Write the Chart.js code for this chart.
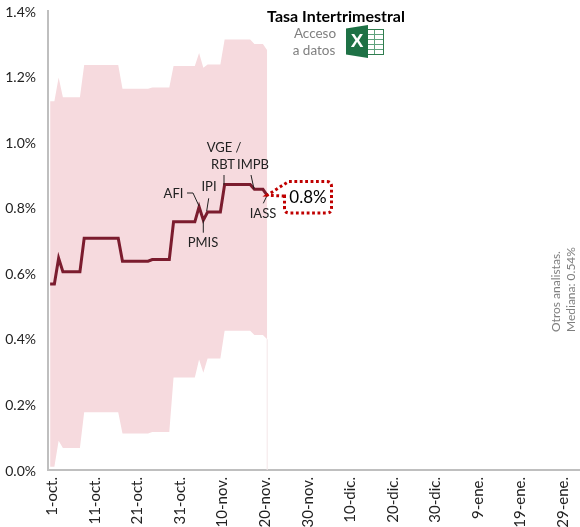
<!DOCTYPE html>
<html>
<head>
<meta charset="utf-8">
<style>
  html, body { margin: 0; padding: 0; background: #fff; }
  #wrap { width: 580px; height: 527px; position: relative; }
</style>
<script src="https://cdn.jsdelivr.net/npm/chart.js@4/dist/chart.umd.min.js"></script>
</head>
<body>
<div id="wrap"><canvas id="tasaChart" width="580" height="527"></canvas></div>
<script>
const totalDays = 125;
const yTicks = [0, 0.2, 0.4, 0.6, 0.8, 1.0, 1.2, 1.4];
const meses = ['ene.', 'feb.', 'mar.', 'abr.', 'may.', 'jun.', 'jul.', 'ago.', 'sep.', 'oct.', 'nov.', 'dic.'];

// mediana diaria, desde 30-sep hasta 20-nov
const mediana = [
  0.567, 0.567, 0.646, 0.605, 0.605, 0.605, 0.605, 0.605,
  0.707, 0.707, 0.707, 0.707, 0.707, 0.707, 0.707, 0.707, 0.707,
  0.637, 0.637, 0.637, 0.637, 0.637, 0.637, 0.637,
  0.642, 0.642, 0.642, 0.642, 0.642,
  0.757, 0.757, 0.757, 0.757, 0.757, 0.757,
  0.803, 0.762, 0.787, 0.787, 0.787, 0.787,
  0.871, 0.871, 0.871, 0.871, 0.871, 0.871, 0.871,
  0.856, 0.856, 0.856, 0.838
];
const bandaAlta = [
  1.125, 1.125, 1.197, 1.137, 1.137, 1.137, 1.137, 1.137,
  1.235, 1.235, 1.235, 1.235, 1.235, 1.235, 1.235, 1.235, 1.235,
  1.163, 1.163, 1.163, 1.163, 1.163, 1.163, 1.163,
  1.167, 1.167, 1.167, 1.167, 1.167,
  1.232, 1.232, 1.232, 1.232, 1.232, 1.232,
  1.272, 1.227, 1.237, 1.237, 1.237, 1.237,
  1.313, 1.313, 1.313, 1.313, 1.313, 1.313, 1.313,
  1.299, 1.299, 1.299, 1.28
];
const bandaBaja = [
  0.010, 0.010, 0.089, 0.067, 0.067, 0.067, 0.067, 0.067,
  0.176, 0.176, 0.176, 0.176, 0.176, 0.176, 0.176, 0.176, 0.176,
  0.111, 0.111, 0.111, 0.111, 0.111, 0.111, 0.111,
  0.116, 0.116, 0.116, 0.116, 0.116,
  0.282, 0.282, 0.282, 0.282, 0.282, 0.282,
  0.337, 0.297, 0.340, 0.340, 0.340, 0.340,
  0.425, 0.425, 0.425, 0.425, 0.425, 0.425, 0.425,
  0.412, 0.412, 0.412, 0.399
];

const categories = [];
for (let i = 0; i < totalDays; i++) {
  const d = new Date(2019, 8, 30 + i);
  categories.push(d.getDate() + '-' + meses[d.getMonth()]);
}

const FONT = 'Lato, "Open Sans", sans-serif';
const lastIdx = mediana.length - 1;

function drawExcelIcon(ctx) {
  ctx.save();
  ctx.fillStyle = '#fff';
  ctx.strokeStyle = '#2f7d4f';
  ctx.lineWidth = 1;
  ctx.strokeRect(364.5, 29.5, 19, 25);
  ctx.strokeStyle = '#5fa27c';
  for (let k = 1; k < 5; k++) {
    ctx.beginPath();
    ctx.moveTo(365, 29.5 + k * 5);
    ctx.lineTo(383, 29.5 + k * 5);
    ctx.stroke();
  }
  ctx.beginPath();
  ctx.moveTo(374.5, 30);
  ctx.lineTo(374.5, 54);
  ctx.stroke();
  ctx.fillStyle = '#1e7145';
  ctx.beginPath();
  ctx.moveTo(346, 28.5);
  ctx.lineTo(368, 25);
  ctx.lineTo(368, 58);
  ctx.lineTo(346, 54.5);
  ctx.closePath();
  ctx.fill();
  ctx.fillStyle = '#fff';
  ctx.font = 'bold 19px "Liberation Sans", sans-serif';
  ctx.textAlign = 'center';
  ctx.textBaseline = 'middle';
  ctx.fillText('X', 357, 42);
  ctx.restore();
}

const annotations = {
  id: 'annotations',
  afterDatasetsDraw(chart) {
    const ctx = chart.ctx;
    const xs = chart.scales.x, ys = chart.scales.y;
    ctx.save();

    // linea tenue al final de la banda
    const xEnd = xs.getPixelForValue(lastIdx);
    ctx.strokeStyle = '#f4e6e8';
    ctx.lineWidth = 1;
    ctx.beginPath();
    ctx.moveTo(xEnd, ys.getPixelForValue(bandaBaja[lastIdx]));
    ctx.lineTo(xEnd, ys.getPixelForValue(0));
    ctx.stroke();

    // etiquetas de indicadores
    ctx.fillStyle = '#222';
    ctx.font = '13px ' + FONT;
    ctx.textAlign = 'center';
    ctx.textBaseline = 'middle';
    [['AFI', 173.5, 193.5], ['IPI', 209, 187], ['PMIS', 203, 243], ['VGE /', 224, 148],
     ['RBT', 223, 164.5], ['IMPB', 253, 165], ['IASS', 263, 213.5]].forEach(t => ctx.fillText(t[0], t[1], t[2]));
    ctx.strokeStyle = '#222';
    ctx.lineWidth = 1;
    [[[187, 193], [193, 193], [199, 206]], [[208.7, 198.3], [206.7, 211]], [[203.3, 220], [203.3, 232.7]],
     [[224, 175], [224, 185]], [[251, 175], [254, 189]], [[267.3, 195], [263.3, 203.3]]].forEach(p => {
      ctx.beginPath();
      p.forEach((q, k) => k ? ctx.lineTo(q[0], q[1]) : ctx.moveTo(q[0], q[1]));
      ctx.stroke();
    });

    // globo punteado con el dato actual
    const tipX = xEnd, tipY = ys.getPixelForValue(mediana[lastIdx]);
    const l = 284.5, r = 331.5, t = 181.5, b = 213, c = 5;
    ctx.strokeStyle = '#c00000';
    ctx.lineWidth = 3;
    ctx.setLineDash([2.8, 2.6]);
    ctx.beginPath();
    ctx.moveTo(l, 196);
    ctx.lineTo(tipX, tipY);
    ctx.lineTo(l + 4, t);
    ctx.lineTo(r - c, t);
    ctx.quadraticCurveTo(r, t, r, t + c);
    ctx.lineTo(r, b - c);
    ctx.quadraticCurveTo(r, b, r - c, b);
    ctx.lineTo(l + c, b);
    ctx.quadraticCurveTo(l, b, l, b - c);
    ctx.closePath();
    ctx.stroke();
    ctx.setLineDash([]);
    ctx.fillStyle = '#000';
    ctx.font = '17px ' + FONT;
    ctx.fillText('0.8%', 308, 198);

    // titulo y acceso a datos
    ctx.font = 'bold 16px ' + FONT;
    ctx.fillText('Tasa Intertrimestral', 336, 17);
    ctx.fillStyle = '#7f7f7f';
    ctx.font = '13.5px ' + FONT;
    ctx.fillText('Acceso', 315, 34);
    ctx.fillText('a datos', 314, 51);
    drawExcelIcon(ctx);

    // nota vertical
    ctx.save();
    ctx.translate(556, 332);
    ctx.rotate(-Math.PI / 2);
    ctx.textAlign = 'left';
    ctx.font = '12px ' + FONT;
    ctx.fillText('Otros analistas.', 0, 0);
    ctx.fillText('Mediana: 0.54%', 0, 15);
    ctx.restore();

    ctx.restore();
  }
};

new Chart(document.getElementById('tasaChart'), {
  type: 'line',
  data: {
    labels: categories,
    datasets: [
      { label: 'Mediana', data: mediana, borderColor: '#7b1c2e', borderWidth: 3, pointRadius: 0, tension: 0, fill: false, order: 0 },
      { label: 'Alta', data: bandaAlta, borderWidth: 0, borderColor: 'transparent', pointRadius: 0, tension: 0, fill: '+1', backgroundColor: '#f6dade', order: 1 },
      { label: 'Baja', data: bandaBaja, borderWidth: 0, borderColor: 'transparent', pointRadius: 0, tension: 0, fill: false, order: 1 }
    ]
  },
  options: {
    responsive: false,
    animation: false,
    layout: { padding: { top: 11, left: 0, right: 0, bottom: 0 } },
    plugins: { legend: { display: false }, tooltip: { enabled: false } },
    scales: {
      x: {
        offset: true,
        afterFit(s) { s.height = 57; s.paddingLeft = 0; s.paddingRight = 0; },
        grid: { display: false, drawTicks: false },
        border: { color: '#bfbfbf', width: 2 },
        ticks: {
          autoSkip: false,
          minRotation: 90,
          maxRotation: 90,
          padding: 7,
          labelOffset: -2,
          color: '#222',
          font: { family: FONT, size: 15 },
          callback(val, i) { return (i - 1) % 10 === 0 ? this.getLabelForValue(val) : ''; }
        }
      },
      y: {
        min: 0,
        max: 1.4,
        afterFit(s) { s.width = 48; s.paddingTop = 0; s.paddingBottom = 0; },
        afterBuildTicks(s) { s.ticks = yTicks.map(v => ({ value: v })); },
        grid: { display: false, drawTicks: false },
        border: { color: '#bfbfbf', width: 2 },
        ticks: {
          padding: 12,
          labelOffset: 1,
          color: '#222',
          font: { family: FONT, size: 14 },
          callback(v) { return v.toFixed(1) + '%'; }
        }
      }
    }
  },
  plugins: [annotations]
});
</script>
</body>
</html>
